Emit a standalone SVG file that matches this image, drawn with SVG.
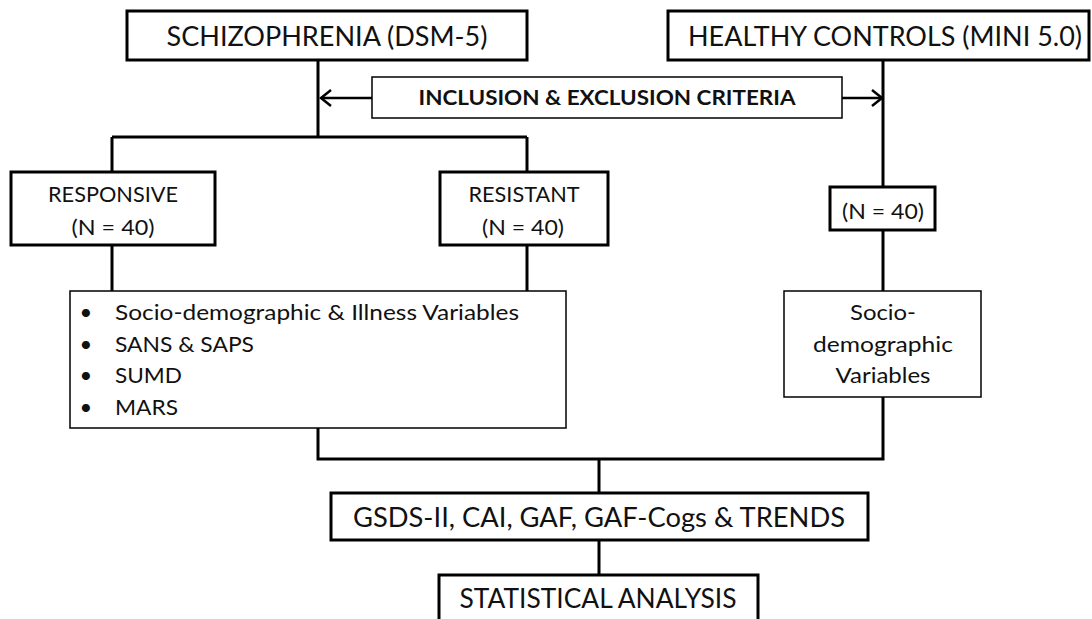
<svg xmlns="http://www.w3.org/2000/svg" width="1092" height="619" viewBox="0 0 1092 619">
<style>
.thick{fill:#fff;stroke:#000;stroke-width:3}
.thin{fill:#fff;stroke:#000;stroke-width:1.5}
.con{fill:none;stroke:#000;stroke-width:3}
.arr{fill:none;stroke:#000;stroke-width:2.5}
text{font-family:Lato,"Liberation Sans",sans-serif;fill:#111;text-anchor:middle}
.big{font-size:27px}
.mid{font-size:22px}
.b{font-weight:bold;font-size:20px}
.l{text-anchor:start;font-size:22px}
</style>
<defs>
<marker id="ah" markerWidth="14" markerHeight="20" refX="12" refY="10" orient="auto" markerUnits="userSpaceOnUse">
<path d="M2,2 L12,10 L2,18" fill="none" stroke="#000" stroke-width="2.5"/>
</marker>
</defs>
<rect width="1092" height="619" fill="#fff"/>
<g id="connectors">
<path class="con" d="M318,60 V137 M112,137 H527 M112,137 V172 M527,137 V172"/>
<path class="con" d="M112,245 V291 M527,245 V291"/>
<path class="con" d="M883,60 V187 M883,230 V291 M883,397 V459 H318 V428"/>
<path class="con" d="M599,459 V493 M599,540 V575"/>
<path class="arr" d="M372,98 H321" marker-end="url(#ah)"/>
<path class="arr" d="M842,98 H882" marker-end="url(#ah)"/>
</g>
<g id="schizophrenia">
<rect class="thick" x="127" y="11" width="400" height="49"/>
<text class="big" x="327" y="46" textLength="321" lengthAdjust="spacingAndGlyphs">SCHIZOPHRENIA (DSM-5)</text>
</g>
<g id="healthy-controls">
<rect class="thick" x="668" y="11" width="421" height="49"/>
<text class="big" x="885" y="46" textLength="394" lengthAdjust="spacingAndGlyphs">HEALTHY CONTROLS (MINI 5.0)</text>
</g>
<g id="criteria">
<rect class="thin" x="372" y="77" width="470" height="41"/>
<text class="b" x="607" y="105" textLength="377" lengthAdjust="spacingAndGlyphs">INCLUSION &amp; EXCLUSION CRITERIA</text>
</g>
<g id="responsive">
<rect class="thick" x="11" y="172" width="204" height="73"/>
<text class="mid" x="113" y="202" textLength="130" lengthAdjust="spacingAndGlyphs">RESPONSIVE</text>
<text class="mid" x="113" y="235" textLength="83" lengthAdjust="spacingAndGlyphs">(N = 40)</text>
</g>
<g id="resistant">
<rect class="thick" x="440" y="172" width="168" height="73"/>
<text class="mid" x="524" y="202" textLength="111" lengthAdjust="spacingAndGlyphs">RESISTANT</text>
<text class="mid" x="523" y="235" textLength="82" lengthAdjust="spacingAndGlyphs">(N = 40)</text>
</g>
<g id="controls-n">
<rect class="thick" x="830" y="187" width="105" height="43"/>
<text class="mid" x="883" y="219" textLength="82" lengthAdjust="spacingAndGlyphs">(N = 40)</text>
</g>
<g id="patient-measures">
<rect class="thin" x="70" y="291" width="496" height="137"/>
<text class="mid" x="86" y="320">•</text>
<text class="mid" x="86" y="352">•</text>
<text class="mid" x="86" y="383">•</text>
<text class="mid" x="86" y="415">•</text>
<text class="l" x="115" y="320" textLength="404" lengthAdjust="spacingAndGlyphs">Socio-demographic &amp; Illness Variables</text>
<text class="l" x="115" y="352" textLength="139" lengthAdjust="spacingAndGlyphs">SANS &amp; SAPS</text>
<text class="l" x="115" y="383" textLength="67" lengthAdjust="spacingAndGlyphs">SUMD</text>
<text class="l" x="115" y="415" textLength="63" lengthAdjust="spacingAndGlyphs">MARS</text>
</g>
<g id="control-measures">
<rect class="thin" x="784" y="291" width="197" height="106"/>
<text class="mid" x="883" y="320" textLength="66" lengthAdjust="spacingAndGlyphs">Socio-</text>
<text class="mid" x="883" y="352" textLength="140" lengthAdjust="spacingAndGlyphs">demographic</text>
<text class="mid" x="883" y="383" textLength="95" lengthAdjust="spacingAndGlyphs">Variables</text>
</g>
<g id="assessments">
<rect class="thick" x="331" y="493" width="537" height="47"/>
<text class="big" x="599" y="527" textLength="492" lengthAdjust="spacingAndGlyphs">GSDS-II, CAI, GAF, GAF-Cogs &amp; TRENDS</text>
</g>
<g id="statistical-analysis">
<rect class="thick" x="439" y="575" width="319" height="55"/>
<text class="big" x="598" y="608" textLength="277" lengthAdjust="spacingAndGlyphs">STATISTICAL ANALYSIS</text>
</g>
</svg>
